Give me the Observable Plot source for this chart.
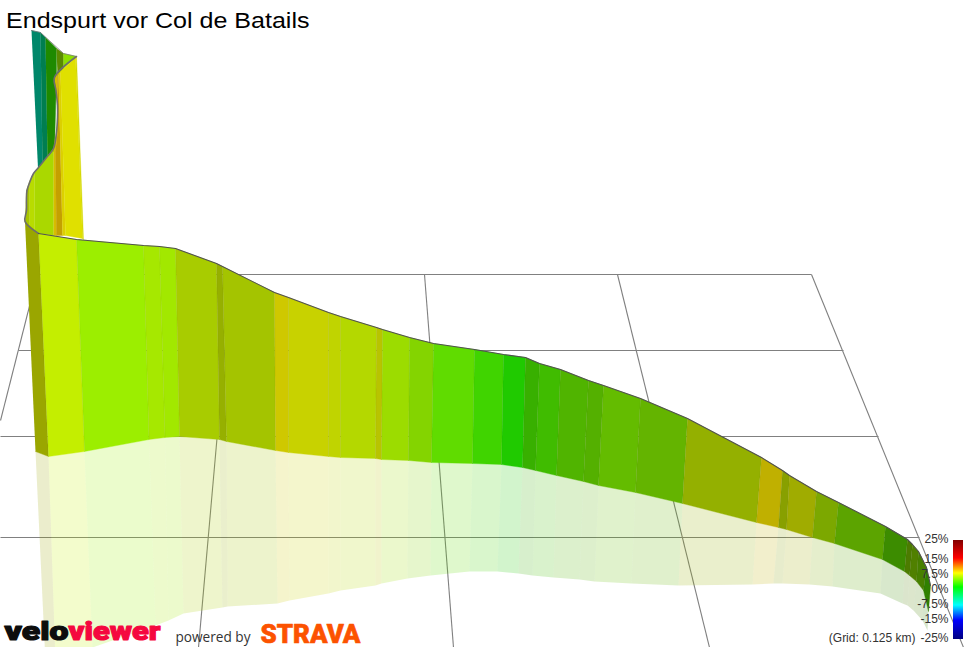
<!DOCTYPE html>
<html>
<head>
<meta charset="utf-8">
<script src="https://cdn.jsdelivr.net/npm/d3@7"></script>
<script src="https://cdn.jsdelivr.net/npm/@observablehq/plot@0.6"></script>
<style>
html,body{margin:0;padding:0;background:#fff;overflow:hidden;width:965px;height:647px}
svg{display:block;overflow:hidden}
</style>
</head>
<body>
<div id="chart"></div>
<script>
// Near ribbon: one value per band boundary
const topX = [24.5,38,76,143,159,175,216,222,274,288,328,340,376,382,409,433,474,503,525,539,560,588,603,640,687,761,782,789,816,838,885,907,912,918,926,930];
const topY = [221,233,239,245,246,248,263,266,292,297,312,316,327,329,337,343,349,354,357,363,369,380,385,398,418,457,470,475,491,502,526,539,544,551,567,585];
const botX = [35,48,84,148.5,164.5,179,219,226,275,288,328,340,375,381,408,431,472,501,522,535,556,583,598,635,682,756,778,786,812,834,882,904,909,916,923,928];
const botY = [451,456,451,439,437,436,439,441,450,452,456,457,458,459,460,462,463,464,467,470,475,481,485,492,503,522,527,529,537,543,559,571,575,581,590,611];
const mirrorX = [45,55,92,155,168,183,222,227,277,289,328,340,375,381,407,430,469,497,518,532,553,579,594,631,678,752,773,782,809,832,880,902,907,913,922,927];
const mirrorY = [662,662,647,625,620,613,607,606,603,600,593,590,585,583,578,575,571,571,573,575,577,579,581,583,585,584,583,583,584,586,593,603,605,610,620,630];
const bandColors = ["#9aa600","#c4ee00","#9cee00","#a6e800","#a2e800","#a8cc00","#96b000","#a4c400","#cfc800","#c8d200","#c0d400","#b4d800","#b8c400","#9cdc00","#84d400","#60dc00","#40d400","#20ca00","#38b000","#40bc00","#50b400","#54b000","#64bc00","#64b400","#94b000","#c0b000","#88a000","#a0ac00","#7ca800","#5ca400","#3c8c00","#4c7c00","#508000","#488000","#308000"];

// Far part of the ribbon, painted back to front
const farColors = ["#00876a","#007e50","#1e8a00","#5a8a00","#8ce000","#d8bc00","#c4a000","#dcd000","#e0e000","#d4d800","#aad800","#b8dc00","#a8c400","#9cbc00"];
const farX = [
  [31,40,42,37.5],[40,45,47,42],[45,56,56,54,47],[56,63,63,57],
  [63,76,63],
  [54,55.5,57,57,56,53,53,56,55,57,57.5,57],[57,57.5,57,55,56,62,58],[58,60,65,62],[60,75,82,65],[75,76,83,82],
  [53,46,38,34,34,38,53],[34,33,29,29,34],[29,26,25,29],[26,26,24.5,25,26]
];
const farY = [
  [30,32,163,168],[32,37,157,163],[37,48,75,150,157],[48,53,68,75],
  [53,56,68],
  [77,90,105,117,132,148,235,235,150,132,105,74],[74,105,132,150,235,235,73],[73,71,235,235],[71,57,238,235],[57,56,239,238],
  [148,157,167,172,230,233,235],[172,173,181,227,230],[181,190,223,227],[190,207,221,223,190]
];
const edgeX = [76,54,55.5,57,57,56,53,46,38,33,29.5,26.5,26,26,24.5,38];
const edgeY = [56,77,90,105,117,132,148,157,167,173,181,190,200,210,221,233];
const capX = [31,40,63,76];
const capY = [30,32,53,56];

// Perspective grid
const gridX1 = [0,0,18,37,37,231,424,617,811];
const gridY1 = [537,436,350,274,274,274,274,274,274];
const gridX2 = [919,878,843,811,0,198,453,709,963];
const gridY2 = [537,436,350,274,420,647,647,647,647];

// Gradient scale
const legendLabels = ["25%","15%","7.5%","0%","-7.5%","-15%","-25%"];
const legendY = [539,559,574,589,604,619,638];
const stopY = [540,558,573,587,605,620,639];
const stopColors = ["#800000","#ff0000","#ffff00","#00ff00","#00ffff","#0000ff","#000080"];

const bandRings = bandColors.flatMap((color,i)=>[
  {band:i,color,x:topX[i],y:topY[i]},{band:i,color,x:topX[i+1],y:topY[i+1]},
  {band:i,color,x:botX[i+1],y:botY[i+1]},{band:i,color,x:botX[i],y:botY[i]}
]);
const mirrorRings = bandColors.flatMap((color,i)=>[
  {band:i,color,x:botX[i],y:botY[i]},{band:i,color,x:botX[i+1],y:botY[i+1]},
  {band:i,color,x:mirrorX[i+1],y:mirrorY[i+1]},{band:i,color,x:mirrorX[i],y:mirrorY[i]}
]);
const farRings = farColors.flatMap((color,i)=>farX[i].map((x,j)=>({band:i,color,x,y:farY[i][j]})));
const separators = topX.slice(1).map((x,i)=>({x1:x,y1:topY[i+1],x2:botX[i+1],y2:botY[i+1]}));
const gridRows = gridX1.map((x,i)=>({x1:x,y1:gridY1[i],x2:gridX2[i],y2:gridY2[i]}));
const farEdge = edgeX.map((x,i)=>({x,y:edgeY[i]}));
const topEdge = topX.slice(1).map((x,i)=>({x,y:topY[i+1]}));
const capLine = capX.map((x,i)=>({x,y:capY[i]}));
const barColor = d3.scaleLinear().domain(stopY).range(stopColors);
const barRows = d3.range(stopY[0],stopY[6]).map(y=>({y1:y,y2:y+1,color:barColor(y+0.5)}));
const legendRows = legendLabels.map((t,i)=>({t,y:legendY[i]}));

const plot = Plot.plot({
  width:965,height:647,
  margin:0,
  x:{domain:[0,965],range:[0,965],axis:null},
  y:{domain:[0,647],range:[0,647],axis:null},
  color:{type:"identity"},
  marks:[
    Plot.link(gridRows,{x1:"x1",y1:"y1",x2:"x2",y2:"y2",stroke:"#808080",strokeWidth:1.1}),
    Plot.line(mirrorRings,{x:"x",y:"y",z:"band",fill:"color",fillOpacity:0.2,stroke:null}),
    Plot.line(farRings,{x:"x",y:"y",z:"band",fill:"color",stroke:"color",strokeWidth:0.4}),
    Plot.line(capLine,{x:"x",y:"y",stroke:"#777",strokeWidth:0.8}),
    Plot.line(bandRings,{x:"x",y:"y",z:"band",fill:"color",stroke:"color",strokeWidth:0.4}),
    Plot.link(separators,{x1:"x1",y1:"y1",x2:"x2",y2:"y2",stroke:"#000",strokeOpacity:0.05,strokeWidth:1}),
    Plot.line(farEdge,{x:"x",y:"y",stroke:"#6e6e6e",strokeWidth:1.6,curve:"catmull-rom"}),
    Plot.line(topEdge,{x:"x",y:"y",stroke:"#505050",strokeWidth:1.1}),
    Plot.rect(barRows,{x1:()=>953,x2:()=>963,y1:"y1",y2:"y2",fill:"color",inset:0}),
    Plot.text(legendRows,{x:()=>948,y:"y",text:"t",textAnchor:"end",fontFamily:"Liberation Sans",fontSize:12,fill:"#333"}),
    Plot.text(["(Grid: 0.125 km)"],{x:()=>915,y:()=>638,text:d=>d,textAnchor:"end",fontFamily:"Liberation Sans",fontSize:12,fill:"#333"}),
    Plot.text(["Endspurt vor Col de Batails"],{x:()=>5.5,y:()=>21,text:d=>d,textAnchor:"start",fontFamily:"Liberation Sans",fontSize:21.6,fill:"#000"}),
    Plot.text(["velo"],{x:()=>4,y:()=>631,text:d=>d,textAnchor:"start",fontFamily:"Roboto",fontWeight:900,fontSize:26,fill:"#0d0d0d",stroke:"#0d0d0d",strokeWidth:1.1}),
    Plot.text(["viewer"],{x:()=>68,y:()=>631,text:d=>d,textAnchor:"start",fontFamily:"Roboto",fontWeight:900,fontSize:26,fill:"#f5083f",stroke:"#f5083f",strokeWidth:1.1}),
    Plot.text(["powered by"],{x:()=>175,y:()=>637,text:d=>d,textAnchor:"start",fontFamily:"Open Sans",fontSize:14,fill:"#333"}),
    Plot.text(["STRAVA"],{x:()=>260,y:()=>634,text:d=>d,textAnchor:"start",fontFamily:"Roboto",fontWeight:900,fontSize:25,fill:"#fc5200",stroke:"#fc5200",strokeWidth:0.6})
  ]
});
const widths = {"velo":64,"viewer":92,"STRAVA":100,"powered by":75,"Endspurt vor Col de Batails":303.5};
d3.select(plot).selectAll("text").each(function(){
  const w = widths[this.textContent];
  if (w) { this.setAttribute("textLength",w); this.setAttribute("lengthAdjust","spacingAndGlyphs"); }
});
document.getElementById("chart").append(plot);
</script>
</body>
</html>
